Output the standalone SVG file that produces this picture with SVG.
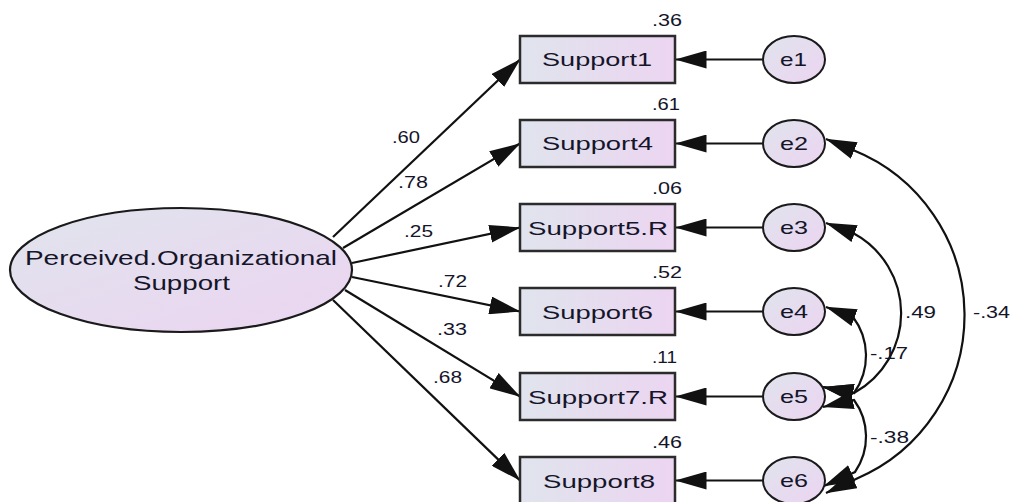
<svg xmlns="http://www.w3.org/2000/svg" width="1013" height="502" viewBox="0 0 1013 502">
  <defs>
    <linearGradient id="fillH" x1="0" y1="0" x2="1" y2="0">
      <stop offset="0" stop-color="#e0e4ed"/>
      <stop offset="1" stop-color="#ecd5f1"/>
    </linearGradient>
    <linearGradient id="fillD" x1="0" y1="0" x2="1" y2="1">
      <stop offset="0" stop-color="#e0e4ed"/>
      <stop offset="1" stop-color="#ecd4f1"/>
    </linearGradient>
    <marker id="ah" markerUnits="userSpaceOnUse" viewBox="0 0 31 18" markerWidth="31" markerHeight="18" refX="30.5" refY="9" orient="auto-start-reverse">
      <path d="M0,0 L31,9 L0,18 Z" fill="#111"/>
    </marker>
    <style>
      .box { fill: url(#fillH); stroke: #2b2b2b; stroke-width: 2.5; }
      .lat { fill: url(#fillD); stroke: #1a1a1a; stroke-width: 2.2; }
      .err { fill: url(#fillD); stroke: #1a1a1a; stroke-width: 2; }
      .lbl { font-family: "Liberation Sans", Arial, sans-serif; font-size: 19px; fill: #15152a; }
      .big { font-family: "Liberation Sans", Arial, sans-serif; font-size: 21px; fill: #15152a; }
      .num { font-family: "Liberation Sans", Arial, sans-serif; font-size: 16px; fill: #15152a; }
      .path { fill: none; stroke: #111; stroke-width: 2.2; marker-end: url(#ah); }
      .cov { fill: none; stroke: #111; stroke-width: 2.2; marker-start: url(#ah); marker-end: url(#ah); }
    </style>
  </defs>

  <!-- connectors -->
  <g id="connectors">
    <!-- loadings from the latent factor -->
    <line class="path" x1="333" y1="237" x2="520" y2="59.5"/>
    <line class="path" x1="343" y1="248" x2="520" y2="143.5"/>
    <line class="path" x1="352" y1="263" x2="520" y2="227.5"/>
    <line class="path" x1="352" y1="277" x2="520" y2="311.5"/>
    <line class="path" x1="345" y1="290" x2="520" y2="396.5"/>
    <line class="path" x1="333" y1="300" x2="520" y2="480.5"/>
    <!-- error terms -->
    <line class="path" x1="763" y1="59.5" x2="676" y2="59.5"/>
    <line class="path" x1="763" y1="143.5" x2="676" y2="143.5"/>
    <line class="path" x1="763" y1="227.5" x2="676" y2="227.5"/>
    <line class="path" x1="763" y1="311.5" x2="676" y2="311.5"/>
    <line class="path" x1="763" y1="396.5" x2="676" y2="396.5"/>
    <line class="path" x1="763" y1="480.5" x2="676" y2="480.5"/>
    <!-- covariances -->
    <path class="cov" d="M826,139 L853,150 A178,178 0 0 1 856,479 L826,493"/>
    <path class="cov" d="M826,223 L853,233 A91,91 0 0 1 854,393 L823,387"/>
    <path class="cov" d="M826,307 L853,317 A64,64 0 0 1 854,393 L823,387"/>
    <path class="cov" d="M823,407 L854,400 A62,62 0 0 1 855,472 L824,486"/>
  </g>

  <!-- latent factor -->
  <g id="node-pos">
    <ellipse class="lat" cx="181" cy="270" rx="171" ry="62"/>
    <text class="big" x="25" y="265" textLength="312" lengthAdjust="spacingAndGlyphs">Perceived.Organizational</text>
    <text class="big" x="133" y="290" textLength="97" lengthAdjust="spacingAndGlyphs">Support</text>
  </g>

  <!-- observed indicators -->
  <g id="node-support1">
    <rect class="box" x="520" y="36" width="155" height="47"/>
    <text class="lbl" x="542" y="66" textLength="110" lengthAdjust="spacingAndGlyphs">Support1</text>
    <text class="num" x="652" y="26" textLength="30" lengthAdjust="spacingAndGlyphs">.36</text>
  </g>
  <g id="node-support4">
    <rect class="box" x="520" y="120" width="155" height="47"/>
    <text class="lbl" x="542" y="150" textLength="111" lengthAdjust="spacingAndGlyphs">Support4</text>
    <text class="num" x="652" y="110" textLength="28" lengthAdjust="spacingAndGlyphs">.61</text>
  </g>
  <g id="node-support5r">
    <rect class="box" x="520" y="204" width="155" height="47"/>
    <text class="lbl" x="528" y="234.5" textLength="140" lengthAdjust="spacingAndGlyphs">Support5.R</text>
    <text class="num" x="652" y="194" textLength="30" lengthAdjust="spacingAndGlyphs">.06</text>
  </g>
  <g id="node-support6">
    <rect class="box" x="520" y="288" width="155" height="47"/>
    <text class="lbl" x="542" y="318.5" textLength="111" lengthAdjust="spacingAndGlyphs">Support6</text>
    <text class="num" x="652" y="278" textLength="30" lengthAdjust="spacingAndGlyphs">.52</text>
  </g>
  <g id="node-support7r">
    <rect class="box" x="520" y="373" width="155" height="47"/>
    <text class="lbl" x="528" y="403.5" textLength="140" lengthAdjust="spacingAndGlyphs">Support7.R</text>
    <text class="num" x="652" y="363" textLength="25" lengthAdjust="spacingAndGlyphs">.11</text>
  </g>
  <g id="node-support8">
    <rect class="box" x="520" y="457" width="155" height="47"/>
    <text class="lbl" x="543" y="487.5" textLength="112" lengthAdjust="spacingAndGlyphs">Support8</text>
    <text class="num" x="652" y="448" textLength="30" lengthAdjust="spacingAndGlyphs">.46</text>
  </g>

  <!-- error terms -->
  <g id="node-e1">
    <ellipse class="err" cx="794" cy="59.5" rx="31" ry="23.5"/>
    <text class="lbl" x="780" y="66" textLength="27" lengthAdjust="spacingAndGlyphs">e1</text>
  </g>
  <g id="node-e2">
    <ellipse class="err" cx="794" cy="143.5" rx="31" ry="23.5"/>
    <text class="lbl" x="780" y="150" textLength="28" lengthAdjust="spacingAndGlyphs">e2</text>
  </g>
  <g id="node-e3">
    <ellipse class="err" cx="794" cy="227.5" rx="31" ry="23.5"/>
    <text class="lbl" x="780" y="234" textLength="28" lengthAdjust="spacingAndGlyphs">e3</text>
  </g>
  <g id="node-e4">
    <ellipse class="err" cx="794" cy="311.5" rx="31" ry="23.5"/>
    <text class="lbl" x="780" y="318" textLength="28" lengthAdjust="spacingAndGlyphs">e4</text>
  </g>
  <g id="node-e5">
    <ellipse class="err" cx="794" cy="396.5" rx="31" ry="23.5"/>
    <text class="lbl" x="780" y="403" textLength="28" lengthAdjust="spacingAndGlyphs">e5</text>
  </g>
  <g id="node-e6">
    <ellipse class="err" cx="794" cy="480.5" rx="31" ry="23.5"/>
    <text class="lbl" x="780" y="487" textLength="28" lengthAdjust="spacingAndGlyphs">e6</text>
  </g>

  <!-- loading estimates -->
  <g id="loading-labels">
    <text class="num" x="392" y="143" textLength="28" lengthAdjust="spacingAndGlyphs">.60</text>
    <text class="num" x="398" y="188" textLength="30" lengthAdjust="spacingAndGlyphs">.78</text>
    <text class="num" x="404" y="237" textLength="29" lengthAdjust="spacingAndGlyphs">.25</text>
    <text class="num" x="438" y="287" textLength="29" lengthAdjust="spacingAndGlyphs">.72</text>
    <text class="num" x="437" y="335" textLength="30" lengthAdjust="spacingAndGlyphs">.33</text>
    <text class="num" x="433" y="383" textLength="29" lengthAdjust="spacingAndGlyphs">.68</text>
  </g>

  <!-- covariance estimates -->
  <g id="covariance-labels">
    <text class="num" x="905" y="318" textLength="31" lengthAdjust="spacingAndGlyphs">.49</text>
    <text class="num" x="973" y="318" textLength="37" lengthAdjust="spacingAndGlyphs">-.34</text>
    <text class="num" x="870" y="359" textLength="38" lengthAdjust="spacingAndGlyphs">-.17</text>
    <text class="num" x="870" y="443" textLength="39" lengthAdjust="spacingAndGlyphs">-.38</text>
  </g>
</svg>
